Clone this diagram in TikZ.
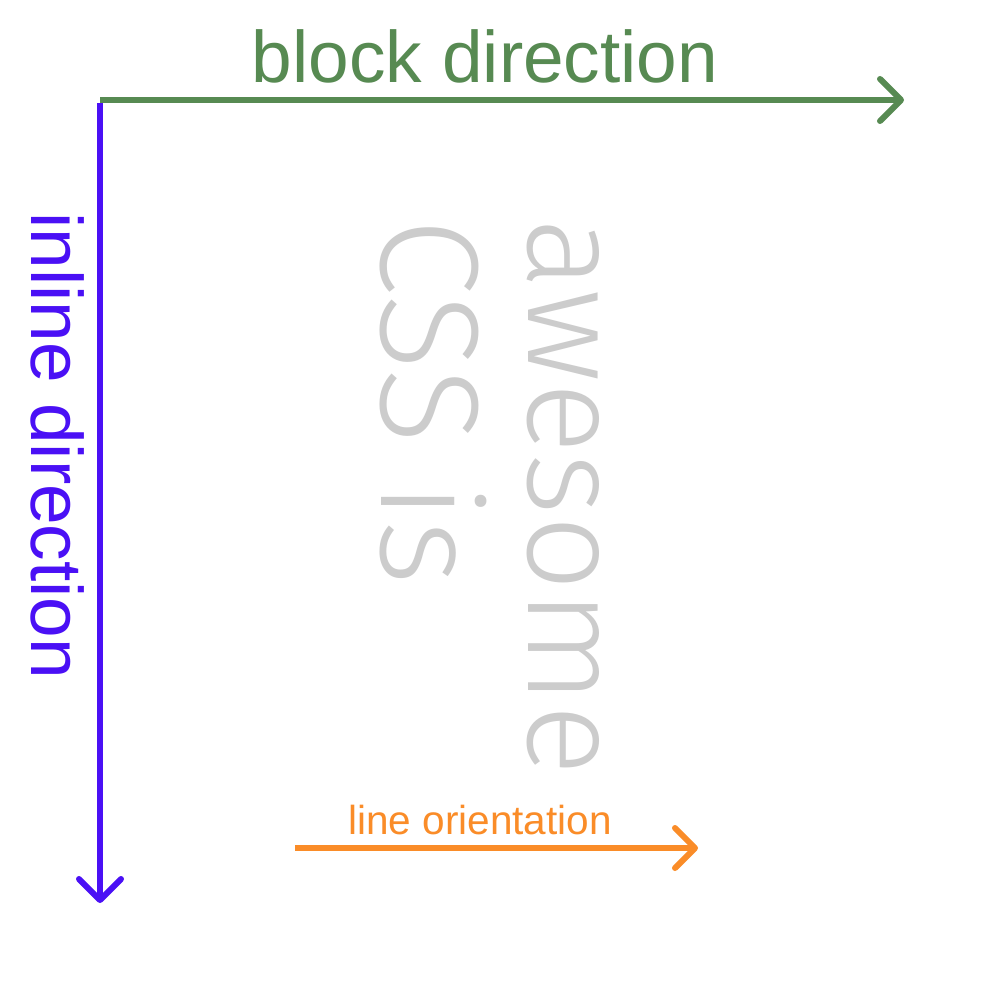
\documentclass[tikz,border=0pt]{standalone}
\usepackage{fontspec}
\setmainfont{Liberation Sans}
\newfontfamily\lightfont{Fira Sans Light}
\definecolor{blockgreen}{HTML}{578A52}
\definecolor{inlineblue}{HTML}{4A10F5}
\definecolor{lineorange}{HTML}{FA8C28}
\definecolor{textgray}{HTML}{CCCCCC}
\begin{document}
\begin{tikzpicture}[x=1pt,y=-1pt,
  axis/.style={line width=6pt,line cap=round,line join=round},
  lbl/.style={inner sep=0pt,anchor=base},
  big/.style={lbl,font=\fontsize{73}{86}\selectfont},
  small/.style={lbl,font=\fontsize{40.5}{48}\selectfont},
  bigtext/.style={lbl,rotate=-90,text=textgray}]
\useasboundingbox (0,0) rectangle (1000,1000);
\fill[white] (0,0) rectangle (1000,1000);
% corners and ends
\coordinate (origin) at (100,100);
\coordinate (gend) at (901,100);
\coordinate (bend) at (100,900);
\coordinate (ostart) at (295,848);
\coordinate (oend) at (695,848);
% block direction
\draw[axis,blockgreen,line cap=butt] (origin) -- (gend);
\draw[axis,blockgreen] ([shift={(-21,-21)}]gend) -- (gend) -- ([shift={(-21,21)}]gend);
\node[big,text=blockgreen] (blocklbl) at (485,83) {block direction};
% inline direction
\draw[axis,inlineblue,line cap=butt] ([yshift=-3pt]origin) -- (bend);
\draw[axis,inlineblue] ([shift={(-21,-21)}]bend) -- (bend) -- ([shift={(21,-21)}]bend);
\node[big,text=inlineblue,rotate=-90] (inlinelbl) at (31,446) {inline direction};
% line orientation
\draw[axis,lineorange,line cap=butt] (ostart) -- (oend);
\draw[axis,lineorange] ([shift={(-20,-20)}]oend) -- (oend) -- ([shift={(-20,20)}]oend);
\node[small,text=lineorange] (orientlbl) at (480,834) {line orientation};
% sample text
\node[bigtext,font=\lightfont\fontsize{140}{168}\selectfont] (line1) at (381,402) {CSS is};
\node[bigtext,font=\lightfont\fontsize{133}{160}\selectfont] (line2) at (528,497) {awesome};
\end{tikzpicture}
\end{document}
